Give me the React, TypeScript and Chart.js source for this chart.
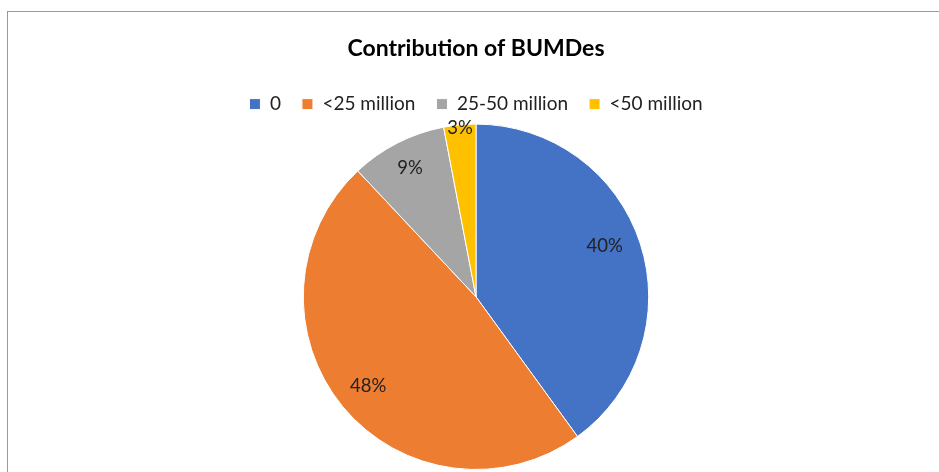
import React, { useEffect, useRef } from "react";
import { Chart, registerables } from "chart.js";

Chart.register(...registerables);

const categories = ["0", "<25 million", "25-50 million", "<50 million"];
const values = [40, 48, 9, 3];
const labelTexts = ["40%", "48%", "9%", "3%"];
const colors = ["#4472C4", "#ED7D31", "#A5A5A5", "#FFC000"];
const labelRadius = [0.8, 0.81, 0.84, 0.98];
const labelAngleShift = [-0.06, 0, 0, 0];

const FONT = "Lato, 'Open Sans', sans-serif";

const labelPlugin = {
  id: "sliceLabels",
  afterDatasetsDraw(chart: any) {
    const ctx = chart.ctx;
    const meta = chart.getDatasetMeta(0);
    ctx.save();
    ctx.font = `18.5px ${FONT}`;
    ctx.fillStyle = "#222";
    ctx.textAlign = "center";
    ctx.textBaseline = "middle";
    meta.data.forEach((arc: any, i: number) => {
      const mid = (arc.startAngle + arc.endAngle) / 2 + labelAngleShift[i];
      const r = arc.outerRadius * labelRadius[i];
      ctx.fillText(labelTexts[i], arc.x + Math.cos(mid) * r, arc.y + Math.sin(mid) * r);
    });
    ctx.restore();
  },
};

export default function App() {
  const ref = useRef<HTMLCanvasElement>(null);
  useEffect(() => {
    const chart = new Chart(ref.current!, {
      type: "pie",
      data: {
        labels: categories,
        datasets: [
          {
            data: values,
            backgroundColor: colors,
            borderColor: "#ffffff",
            borderWidth: 1,
          },
        ],
      },
      options: {
        animation: false,
        responsive: false,
        layout: { padding: { left: 13, right: 0, top: 0, bottom: 2 } },
        plugins: {
          title: {
            display: true,
            text: "Contribution of BUMDes",
            color: "#000",
            font: { family: FONT, size: 23, weight: "bold" },
            padding: { top: 35, bottom: 11 },
          },
          legend: {
            position: "top",
            labels: {
              color: "#222",
              font: { family: FONT, size: 19 },
              boxWidth: 11,
              boxHeight: 11,
              padding: 21,
            },
          },
          tooltip: { enabled: false },
        },
      },
      plugins: [labelPlugin],
    });
    return () => chart.destroy();
  }, []);
  return (
    <div style={{ position: "fixed", left: 0, top: 0, width: 939, height: 472, overflow: "hidden", background: "#fff" }}>
      <div
        style={{
          position: "absolute",
          left: 7,
          top: 11,
          width: 1000,
          height: 1000,
          border: "1px solid #9a9a9a",
          borderRightWidth: 0,
          borderBottomWidth: 0,
        }}
      />
      <canvas ref={ref} width={939} height={472} style={{ position: "absolute", left: 0, top: 0 }} />
    </div>
  );
}
